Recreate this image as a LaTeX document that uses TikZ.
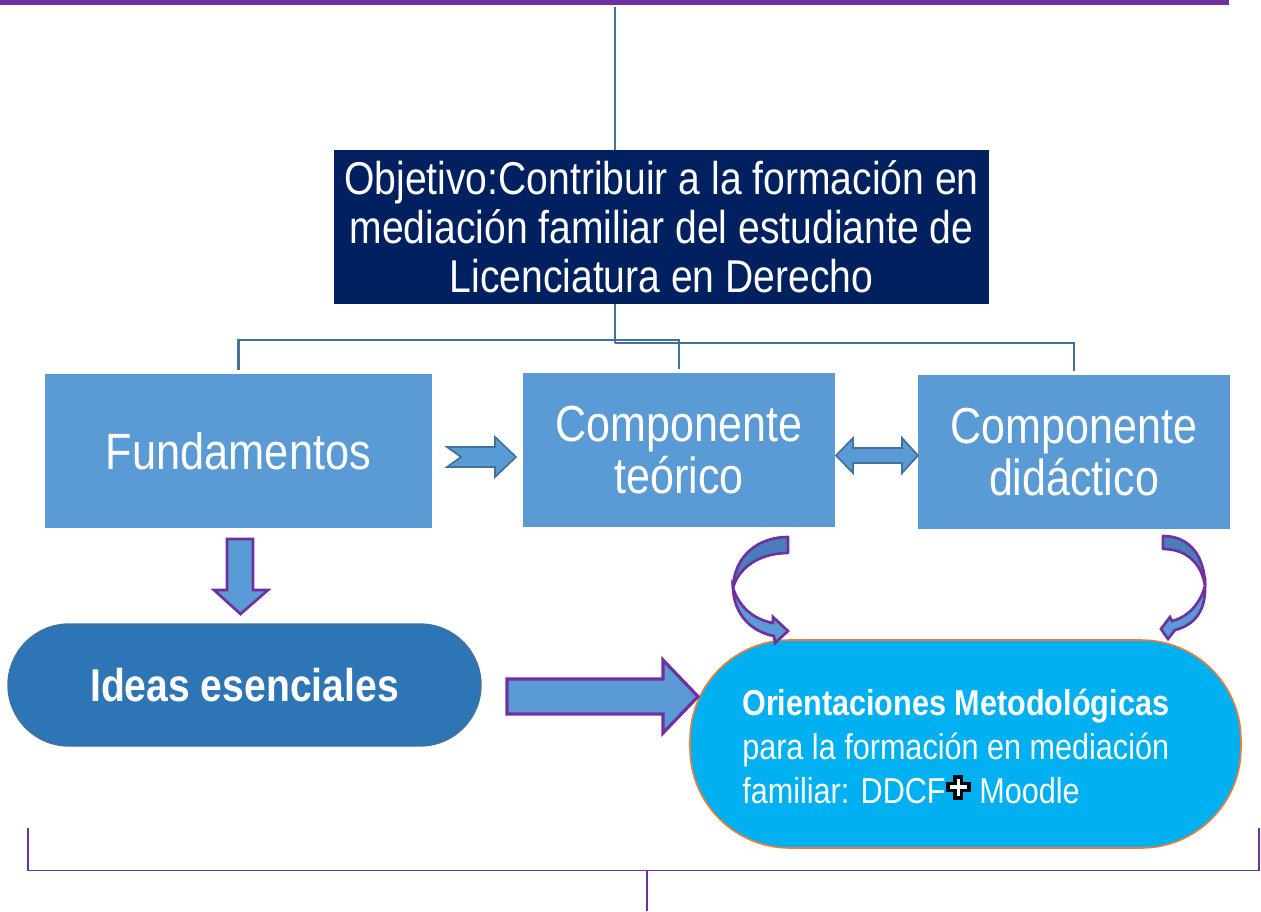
\documentclass[tikz,border=0pt]{standalone}
\usepackage{fontspec}
\setmainfont{Liberation Sans}[FakeStretch=0.85]
\usetikzlibrary{calc}
\definecolor{navy}{HTML}{002060}
\definecolor{boxblue}{HTML}{5B9BD5}
\definecolor{darkblue}{HTML}{2E75B6}
\definecolor{pillborder}{HTML}{41719C}
\definecolor{cyanfill}{HTML}{00B0F0}
\definecolor{orangeline}{HTML}{ED7D31}
\definecolor{linkblue}{HTML}{41719C}
\definecolor{purpleline}{HTML}{7030A0}
\definecolor{backblue}{HTML}{4A7EBB}
\newcommand{\heavycross}{\tikz[x=1pt,y=1pt,baseline=-12pt]{%
  \fill[black] (-9.4,-3.9) rectangle (9.4,3.9);
  \fill[black] (-3.9,-9.4) rectangle (3.9,9.4);
  \fill[white] (-6.4,-1.2) rectangle (6.4,1.2);
  \fill[white] (-1.2,-6.4) rectangle (1.2,6.4);}}
\begin{document}
\begin{tikzpicture}[x=0.75pt,y=-0.75pt,
  box/.style={rectangle, fill=boxblue, text=white, inner sep=0pt, align=center,
    minimum width=234pt, minimum height=115.5pt},
  link/.style={draw=linkblue, line width=2pt},
  blockarrow/.style={fill=boxblue, draw=purpleline, line width=2pt, line join=miter},
  flatarrow/.style={fill=boxblue, draw=linkblue, line width=1.3pt, line join=miter},
  curveback/.style={fill=backblue, draw=purpleline, line width=2pt, line join=round},
  curvefront/.style={fill=boxblue, draw=purpleline, line width=2pt, line join=miter},
  bracket/.style={draw=purpleline, line width=1.2pt}]
\useasboundingbox (0,0) rectangle (1261,911);

% top bar
\fill[purpleline] (0,0) rectangle (1229,4.5);

% main nodes
\node[box, fill=navy, minimum width=491.25pt,
  font=\fontsize{34.5pt}{36.75pt}\selectfont] (obj) at (661.5,227)
  {Objetivo:Contribuir a la formación en\\mediación familiar del estudiante de\\Licenciatura en Derecho};
\node[box, minimum width=290.25pt, font=\fontsize{38.25pt}{39pt}\selectfont] (fund) at (238.5,451) {Fundamentos};
\node[box, font=\fontsize{38pt}{39pt}\selectfont] (teo) at (679,450) {Componente\\teórico};
\node[box, font=\fontsize{38pt}{39pt}\selectfont] (did) at (1074,452) {Componente\\didáctico};
\node[rectangle, rounded corners=45.75pt, fill=darkblue, draw=pillborder, line width=1pt,
  minimum width=354.75pt, minimum height=91.5pt, inner sep=0pt, text=white,
  font=\bfseries\fontsize{34.5pt}{36pt}\selectfont] (ideas) at (244.5,685) {Ideas esenciales};
\node[rectangle, rounded corners=75pt, fill=cyanfill, draw=orangeline, line width=1.2pt,
  minimum width=413.25pt, minimum height=156pt, inner sep=0pt] (orient) at (965.5,744) {};
\node[anchor=west, align=left, inner sep=0pt, text=white,
  font=\fontsize{27pt}{33pt}\selectfont] (orientext) at (742,746)
  {\textbf{Orientaciones Metodológicas}\\para la formación en mediación\\familiar: DDCF\heavycross{} Moodle};

% connectors
\coordinate (topend) at (615,7);
\coordinate (j1) at (615,340);
\coordinate (j2) at (615,343);
\draw[link] (topend) -- (topend |- obj.north);
\draw[link] (obj.south -| j1) -- (j2);
\draw[link, shorten <=3pt, shorten >=3pt] (fund.north) |- (j1) -| (teo.north);
\draw[link, shorten >=3pt] (j2) -| (did.north);

% notched arrow Fundamentos -> teorico
\draw[flatarrow] (447,447) -- (495,447) -- (495,437) -- (516,457) -- (495,477)
  -- (495,467) -- (447,467) -- (461,457) -- cycle;
% double arrow teorico <-> didactico
\draw[flatarrow] (836,455.5) -- (853,438) -- (853,448) -- (902,448) -- (902,438)
  -- (918,455.5) -- (902,473) -- (902,463) -- (853,463) -- (853,473) -- cycle;
% down arrow Fundamentos -> Ideas
\draw[blockarrow] (227,539) -- (253,539) -- (253,590) -- (268,590) -- (240.5,614)
  -- (214,590) -- (227,590) -- cycle;
% big right arrow Ideas -> Orientaciones
\draw[blockarrow, line width=2.4pt] (507,679) -- (663,679) -- (663,660) -- (698,696.5)
  -- (663,733) -- (663,714) -- (507,714) -- cycle;

% curved arrow from teorico
\draw[curveback] (788,537) .. controls (758,537) and (734,556) .. (733,588)
  .. controls (738,569) and (758,553) .. (788,553) -- cycle;
\draw[curvefront] (733,588) .. controls (734,615) and (752,632) .. (774,636)
  -- (775,643) -- (788,631) -- (773,617) -- (773,623)
  .. controls (752,619) and (739,606) .. (733,588) -- cycle;
% curved arrow from didactico
\draw[curveback] (1163,536) .. controls (1191,536) and (1205,558) .. (1205,586)
  .. controls (1202,565) and (1188,549) .. (1163,549) -- cycle;
\draw[curvefront] (1205,586) .. controls (1206,610) and (1195,625) .. (1175,630)
  -- (1168,639) -- (1161,629) -- (1170,617) -- (1172,621)
  .. controls (1188,617) and (1200,604) .. (1205,586) -- cycle;

% bottom bracket
\coordinate (bl) at (28,828);
\coordinate (br) at (1259,828);
\coordinate (bm) at (647,870.5);
\coordinate (bend) at (647,911);
\draw[bracket] (bl) |- (bm) -| (br);
\draw[bracket] (bm) -- (bend);
\end{tikzpicture}
\end{document}
